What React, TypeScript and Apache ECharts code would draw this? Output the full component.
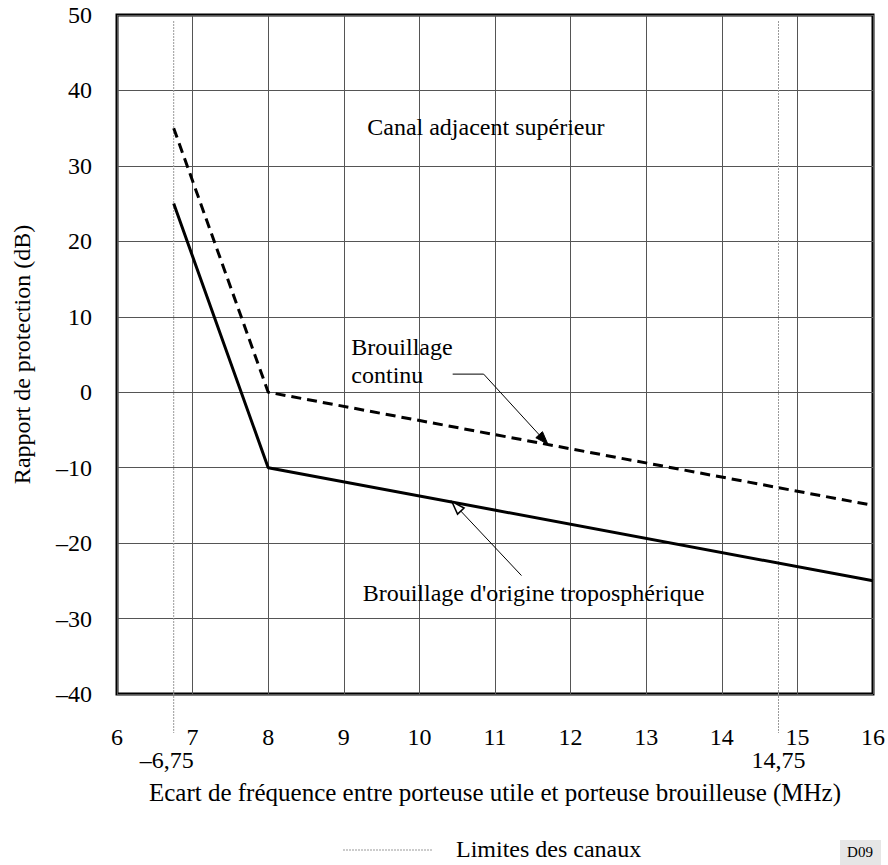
import React, { useEffect, useRef } from "react";
import * as echarts from "echarts";

// ---- data ----
const freqPoints = [6.75, 8, 16];
const continuousValues = [35, 0, -15];
const troposphericValues = [25, -10, -25];
const channelLimits = [6.75, 14.75];
const channelLimitLabels = ["–6,75", "14,75"];
const xRange = [6, 16];
const yRange = [-40, 50];

const FONT = "'Liberation Serif', 'Times New Roman', serif";

const fmt = (v: number) => (v < 0 ? "–" + Math.abs(v) : String(v));

export default function App() {
  const ref = useRef<HTMLDivElement>(null);
  useEffect(() => {
    if (!ref.current) return;
    const chart = echarts.init(ref.current, null, { renderer: "svg" });
    const toSeries = (vals: number[]) => freqPoints.map((f, i) => [f, vals[i]]);
    chart.setOption({
      animation: false,
      backgroundColor: "#fff",
      textStyle: { fontFamily: FONT },
      grid: {
        left: 117,
        top: 15,
        right: 12,
        bottom: 171,
        show: true,
        borderColor: "#000",
        borderWidth: 3,
        backgroundColor: "transparent",
      },
      xAxis: {
        type: "value",
        min: xRange[0],
        max: xRange[1],
        interval: 1,
        axisLine: { show: false },
        axisTick: { show: false },
        axisLabel: { color: "#000", fontSize: 24, fontFamily: FONT, margin: 31 },
        splitLine: { show: true, lineStyle: { color: "#555", width: 1 } },
        name: "Ecart de fréquence entre porteuse utile et porteuse brouilleuse (MHz)",
        nameLocation: "middle",
        nameGap: 86,
        nameTextStyle: { color: "#000", fontSize: 25, fontFamily: FONT },
      },
      yAxis: {
        type: "value",
        min: yRange[0],
        max: yRange[1],
        interval: 10,
        axisLine: { show: false },
        axisTick: { show: false },
        axisLabel: { color: "#000", fontSize: 24, fontFamily: FONT, margin: 25, formatter: fmt },
        splitLine: { show: true, lineStyle: { color: "#555", width: 1 } },
        name: "Rapport de protection (dB)",
        nameLocation: "middle",
        nameGap: 83,
        nameTextStyle: { color: "#000", fontSize: 24, fontFamily: FONT },
      },
      series: [
        {
          name: "Brouillage continu",
          type: "line",
          data: toSeries(continuousValues),
          symbol: "none",
          lineStyle: { color: "#000", width: 3, type: [10, 6] },
          z: 5,
        },
        {
          name: "Brouillage d'origine troposphérique",
          type: "line",
          data: toSeries(troposphericValues),
          symbol: "none",
          lineStyle: { color: "#000", width: 3 },
          z: 5,
        },
      ],
    });

    const px = (x: number, y: number) =>
      chart.convertToPixel({ gridIndex: 0 }, [x, y]) as number[];

    const topY = px(xRange[0], yRange[1])[1];
    const botY = px(xRange[0], yRange[0])[1];

    const graphics: any[] = [];
    channelLimits.forEach((c, i) => {
      const x = px(c, 0)[0];
      graphics.push({
        type: "line",
        shape: { x1: x, y1: topY + 6, x2: x, y2: botY + 39 },
        style: { stroke: "#999", lineWidth: 1, lineDash: [2, 1] },
        z: 3,
      });
      const lbl = channelLimitLabels[i];
      graphics.push({
        type: "text",
        x: lbl.startsWith("–") ? x - 7 : x,
        y: botY + 66,
        style: {
          text: lbl,
          font: `24px ${FONT}`,
          fill: "#000",
          align: "center",
          verticalAlign: "middle",
        },
      });
    });

    const label = (text: string, x: number, y: number) => {
      const p = px(x, y);
      graphics.push({
        type: "text",
        x: p[0],
        y: p[1],
        style: { text, font: `24px ${FONT}`, fill: "#000", align: "left", verticalAlign: "middle", lineHeight: 28 },
        z: 10,
      });
    };
    label("Canal adjacent supérieur", 9.31, 35.1);
    label("Brouillage\ncontinu", 9.1, 4.2);
    label("Brouillage d'origine troposphérique", 9.25, -26.6);

    const arrow = (pts: number[][], filled: boolean) => {
      const pp = pts.map((q) => px(q[0], q[1]));
      graphics.push({
        type: "polyline",
        shape: { points: pp },
        style: { stroke: "#000", lineWidth: 1, fill: null },
        z: 10,
      });
      const tip = pp[pp.length - 1];
      const prev = pp[pp.length - 2];
      const dx = tip[0] - prev[0];
      const dy = tip[1] - prev[1];
      const len = Math.hypot(dx, dy);
      const ux = dx / len, uy = dy / len;
      const L = 13, W = 4.5;
      const bx = tip[0] - ux * L, by = tip[1] - uy * L;
      graphics.push({
        type: "polygon",
        shape: {
          points: [tip, [bx - uy * W, by + ux * W], [bx + uy * W, by - ux * W]],
        },
        style: { fill: filled ? "#000" : "#fff", stroke: "#000", lineWidth: filled ? 1 : 1.5 },
        z: 11,
      });
    };
    arrow([[10.44, 2.4], [10.85, 2.4], [11.7, -6.9]], true);
    arrow([[11.35, -24.3], [10.43, -14.5]], false);

    // legend
    graphics.push({
      type: "line",
      shape: { x1: 343, y1: 850, x2: 432, y2: 850 },
      style: { stroke: "#999", lineWidth: 1, lineDash: [2, 1] },
    });
    graphics.push({
      type: "text",
      x: 456,
      y: 849,
      style: { text: "Limites des canaux", font: `24px ${FONT}`, fill: "#000", align: "left", verticalAlign: "middle" },
    });
    graphics.push({
      type: "rect",
      shape: { x: 840, y: 840, width: 41, height: 25 },
      style: { fill: "#e6e6e6" },
    });
    graphics.push({
      type: "text",
      x: 860,
      y: 852,
      style: { text: "D09", font: `15px ${FONT}`, fill: "#000", align: "center", verticalAlign: "middle" },
    });

    chart.setOption({ graphic: graphics });
    return () => chart.dispose();
  }, []);
  return (
    <div
      ref={ref}
      style={{ position: "fixed", left: 0, top: 0, width: 888, height: 865, background: "#fff" }}
    />
  );
}
